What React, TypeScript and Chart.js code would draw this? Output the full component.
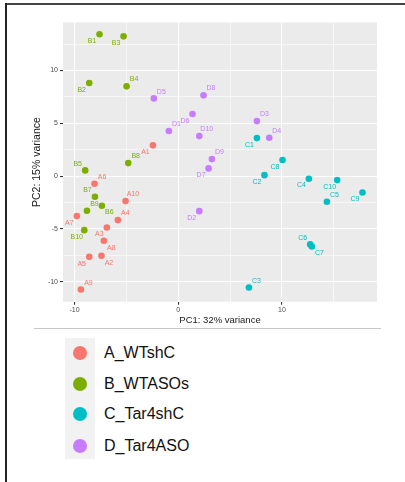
import React, { useEffect, useRef } from "react";
import { Chart, registerables } from "chart.js";

Chart.register(...registerables);

// ---- data ----
const groups = ["A_WTshC", "B_WTASOs", "C_Tar4shC", "D_Tar4ASO"];
const groupPrefixes = ["A", "B", "C", "D"];
const groupColors = ["#F8766D", "#7CAE00", "#00BFC4", "#C77CFF"];

const aX = [-2.44, -7.4, -6.88, -5.82, -8.58, -8.07, -9.77, -7.17, -9.38, -5.08];
const aY = [2.91, -7.55, -4.87, -4.17, -7.65, -0.73, -3.79, -6.13, -10.74, -2.37];

const bX = [-7.59, -8.58, -5.27, -4.98, -8.97, -7.36, -8.03, -4.82, -8.8, -9.06];
const bY = [13.43, 8.82, 13.24, 8.5, 0.54, -2.81, -1.96, 1.23, -3.29, -5.12];

const cX = [7.59, 8.32, 6.82, 12.6, 14.34, 12.73, 12.89, 10.06, 17.77, 15.33];
const cY = [3.6, 0.09, -10.55, -0.25, -2.43, -6.47, -6.67, 1.52, -1.55, -0.38];

const dX = [-0.9, 2.03, 7.59, 8.78, -2.35, 1.38, 2.93, 2.44, 3.25, 2.03];
const dY = [4.27, -3.32, 5.21, 3.63, 7.36, 5.88, 0.73, 7.65, 1.61, 3.79];

const xMajorTicks = [-10, 0, 10];
const yMajorTicks = [-10, -5, 0, 5, 10];
const xTitle = "PC1: 32% variance";
const yTitle = "PC2: 15% variance";

// label placement (style): ur / ul / ll / lr
const aLabelPos = ["ll", "lr", "ll", "ur", "ll", "ur", "ll", "lr", "ur", "ur"];
const bLabelPos = ["ll", "ll", "ll", "ur", "ul", "lr", "ul", "ur", "ur", "ll"];
const cLabelPos = ["ll", "ll", "ur", "ll", "ur", "ul", "lr", "ll", "ll", "ll"];
const dLabelPos = ["ur", "ll", "ur", "ur", "ur", "ll", "ll", "ur", "ur", "ur"];

const seriesX = [aX, bX, cX, dX];
const seriesY = [aY, bY, cY, dY];
const labelPos = [aLabelPos, bLabelPos, cLabelPos, dLabelPos];

const FONT = '"Liberation Sans", Arial, Helvetica, sans-serif';

const isMultiple = (v: number, m: number) => Math.abs(v / m - Math.round(v / m)) < 1e-6;

const bgPlugin = {
  id: "panelBg",
  beforeDraw(chart: any) {
    const { ctx, chartArea } = chart;
    ctx.save();
    ctx.fillStyle = "#EBEBEB";
    ctx.fillRect(chartArea.left, chartArea.top, chartArea.right - chartArea.left, chartArea.bottom - chartArea.top);
    ctx.restore();
  },
};

const labelPlugin = {
  id: "pointLabels",
  afterDatasetsDraw(chart: any) {
    const { ctx } = chart;
    ctx.save();
    ctx.font = `7px ${FONT}`;
    ctx.textAlign = "center";
    ctx.textBaseline = "middle";
    chart.data.datasets.forEach((ds: any, di: number) => {
      const meta = chart.getDatasetMeta(di);
      ctx.fillStyle = groupColors[di];
      meta.data.forEach((el: any, i: number) => {
        const pos = labelPos[di][i];
        const dx = pos.endsWith("r") ? 7.5 : -7.5;
        const dy = pos.startsWith("u") ? -6.8 : 6.8;
        ctx.fillText(ds.data[i].label, el.x + dx, el.y + dy);
      });
    });
    ctx.restore();
  },
};

export default function App() {
  const canvasRef = useRef<HTMLCanvasElement | null>(null);

  useEffect(() => {
    if (!canvasRef.current) return;
    const datasets = groups.map((g, gi) => ({
      label: g,
      data: seriesX[gi].map((x, i) => ({ x, y: seriesY[gi][i], label: groupPrefixes[gi] + (i + 1) })),
      backgroundColor: groupColors[gi],
      borderWidth: 0,
      pointRadius: 3.3,
      pointHoverRadius: 3.3,
    }));

    const chart = new Chart(canvasRef.current, {
      type: "scatter",
      data: { datasets },
      options: {
        responsive: false,
        animation: false,
        events: [],
        layout: { padding: { top: 22.5, right: 28, left: 0, bottom: 0 } },
        plugins: { legend: { display: false }, tooltip: { enabled: false } },
        scales: {
          x: {
            type: "linear",
            min: -11.11,
            max: 19.17,
            border: { display: false },
            afterFit: (s: any) => {
              s.height = 28.3;
            },
            ticks: {
              stepSize: 5,
              includeBounds: false,
              autoSkip: false,
              maxRotation: 0,
              padding: 1,
              color: "#4D4D4D",
              font: { size: 7, family: FONT },
              callback: (v: any) => (xMajorTicks.includes(Number(v)) ? String(v) : ""),
            },
            grid: {
              color: "#FFFFFF",
              lineWidth: (c: any) => (isMultiple(c.tick.value, 10) ? 1.1 : 0.55),
              tickColor: (c: any) => (isMultiple(c.tick.value, 10) ? "#333333" : "rgba(0,0,0,0)"),
              tickLength: 3,
              drawTicks: true,
            },
            title: {
              display: true,
              text: xTitle,
              color: "#1A1A1A",
              font: { size: 9.5, family: FONT },
              padding: { top: 0, bottom: 4.3 },
            },
          },
          y: {
            type: "linear",
            min: -11.9,
            max: 14.55,
            border: { display: false },
            afterFit: (s: any) => {
              s.width = 63;
            },
            ticks: {
              stepSize: 2.5,
              includeBounds: false,
              autoSkip: false,
              padding: 2,
              color: "#4D4D4D",
              font: { size: 7, family: FONT },
              callback: (v: any) => (yMajorTicks.includes(Number(v)) ? String(v) : ""),
            },
            grid: {
              color: "#FFFFFF",
              lineWidth: (c: any) => (isMultiple(c.tick.value, 5) ? 1.1 : 0.55),
              tickColor: (c: any) => (isMultiple(c.tick.value, 5) ? "#333333" : "rgba(0,0,0,0)"),
              tickLength: 3,
              drawTicks: true,
            },
            title: {
              display: true,
              text: yTitle,
              color: "#1A1A1A",
              font: { size: 10.5, family: FONT },
              padding: { top: 30.7, bottom: 0 },
            },
          },
        },
      },
      plugins: [bgPlugin, labelPlugin],
    } as any);
    return () => chart.destroy();
  }, []);

  const legendCenters = [353.3, 383.5, 414.3, 445.5];

  return (
    <div style={{ position: "fixed", left: 0, top: 0, width: 405, height: 482, background: "#fff", overflow: "hidden" }}>
      <div style={{ position: "absolute", left: 5, top: 3, width: 400, height: 1.5, background: "#444" }} />
      <div style={{ position: "absolute", left: 5, top: 3, width: 1.5, height: 479, background: "#222" }} />
      <canvas ref={canvasRef} width={405} height={330} style={{ position: "absolute", left: 0, top: 0, width: 405, height: 330 }} />
      <div style={{ position: "absolute", left: 34, top: 328, width: 347, height: 1, background: "#C8C8C8" }} />
      <div style={{ position: "absolute", left: 65, top: 337.7, width: 30, height: 121.3, background: "#F2F2F2" }} />
      {groups.map((g, i) => (
        <React.Fragment key={g}>
          <div
            style={{
              position: "absolute",
              left: 80 - 7,
              top: legendCenters[i] - 7,
              width: 14,
              height: 14,
              borderRadius: "50%",
              background: groupColors[i],
            }}
          />
          <div
            style={{
              position: "absolute",
              left: 104,
              top: legendCenters[i] - 10,
              height: 20,
              lineHeight: "20px",
              fontSize: 16,
              fontFamily: FONT,
              color: "#111",
              whiteSpace: "nowrap",
            }}
          >
            {g}
          </div>
        </React.Fragment>
      ))}
    </div>
  );
}
